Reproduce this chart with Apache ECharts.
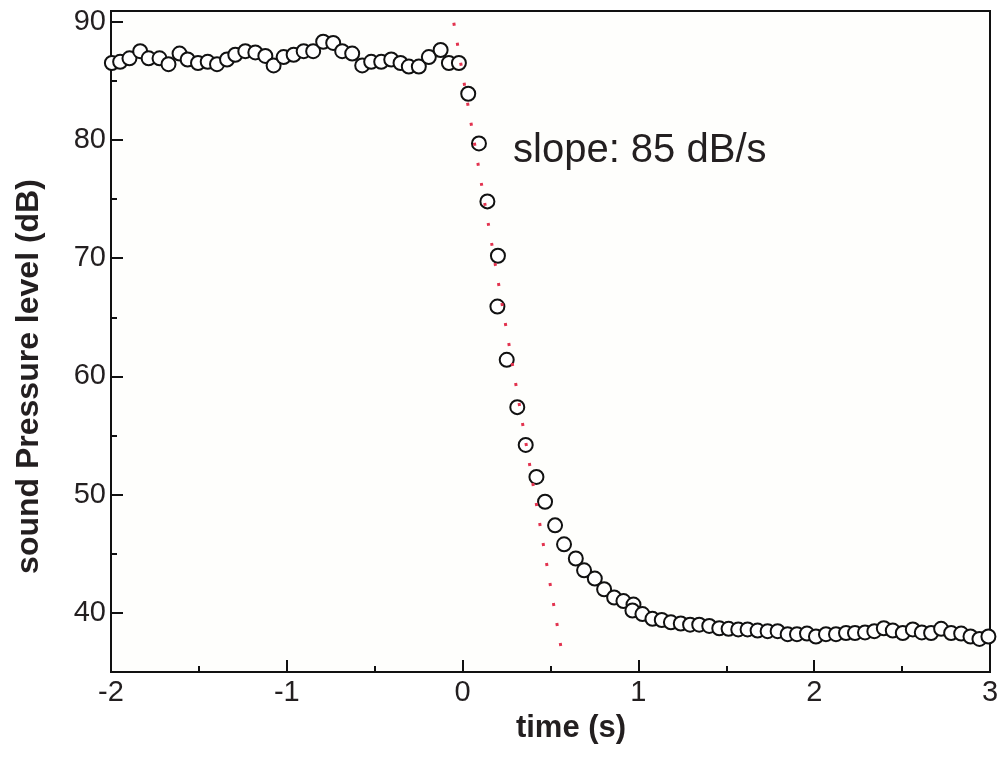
<!DOCTYPE html>
<html>
<head>
<meta charset="utf-8">
<script src="https://cdn.jsdelivr.net/npm/echarts@6/dist/echarts.min.js"></script>
<style>
html,body{margin:0;padding:0;background:#fff;}
#chart{width:1005px;height:757px;}
</style>
</head>
<body>
<div id="chart"></div>
<script>
// measured data: time (s) and sound pressure level (dB)
const timeS = [
  -1.995,-1.948,-1.895,-1.834,-1.786,-1.724,-1.673,-1.610,-1.564,-1.505,
  -1.450,-1.397,-1.340,-1.293,-1.236,-1.179,-1.122,-1.075,-1.018,-0.961,
  -0.904,-0.850,-0.793,-0.736,-0.685,-0.628,-0.571,-0.520,-0.463,-0.406,
  -0.353,-0.306,-0.249,-0.192,-0.125,-0.078,-0.021,
  0.032,0.093,0.141,0.201,0.198,0.251,0.311,0.359,0.420,0.469,
  0.526,0.577,0.644,0.691,0.752,0.805,0.862,0.915,0.972,0.966,
  1.023,1.080,1.133,1.185,1.241,1.294,1.346,1.403,1.460,1.513,
  1.568,1.621,1.678,1.735,1.792,1.849,1.902,1.959,2.010,2.067,
  2.124,2.181,2.232,2.289,2.342,2.396,2.447,2.504,2.561,2.612,
  2.665,2.722,2.779,2.836,2.889,2.940,2.991
];
const levelDb = [
  86.5,86.6,86.9,87.5,86.9,86.9,86.4,87.3,86.8,86.5,
  86.6,86.4,86.8,87.2,87.5,87.4,87.1,86.3,87.0,87.2,
  87.5,87.5,88.3,88.2,87.5,87.3,86.3,86.6,86.6,86.8,
  86.5,86.2,86.2,87.0,87.6,86.5,86.5,
  83.9,79.7,74.8,70.2,65.9,61.4,57.4,54.2,51.5,49.4,
  47.4,45.8,44.6,43.6,42.9,42.0,41.3,41.0,40.7,40.2,
  39.9,39.5,39.4,39.2,39.1,39.0,39.0,38.9,38.7,38.65,
  38.6,38.6,38.5,38.45,38.45,38.2,38.2,38.25,38.0,38.2,
  38.2,38.3,38.3,38.35,38.45,38.7,38.5,38.3,38.6,38.35,
  38.3,38.65,38.3,38.25,38.0,37.8,38.0
];
// linear fit (slope ~85 dB/s), two endpoints
const fitTime = [-0.050, 0.571];
const fitLevel = [89.9, 36.1];
// axis ticks
const yMajorTicks = [40, 50, 60, 70, 80, 90];
const yMinorTicks = [45, 55, 65, 75, 85];
const annotation = 'slope: 85 dB/s';

const FONT = '"Liberation Sans", Arial, sans-serif';
const chart = echarts.init(document.getElementById('chart'));
const yMin = 35, yMax = 90.9;

chart.setOption({
  backgroundColor: '#ffffff',
  animation: false,
  grid: {
    left: 111, right: 15, top: 11, bottom: 85,
    show: true, borderColor: '#111', borderWidth: 2, backgroundColor: '#fefefc'
  },
  xAxis: {
    type: 'value', min: -2, max: 3, interval: 1,
    name: 'time (s)', nameLocation: 'middle', nameGap: 41,
    nameTextStyle: { fontFamily: FONT, fontSize: 31, fontWeight: 'bold', color: '#231f20', padding: [0, 0, 0, 41] },
    axisLine: { show: true, onZero: false, lineStyle: { color: '#111', width: 2 } },
    axisTick: { show: true, inside: true, length: 12, lineStyle: { color: '#111', width: 2 } },
    minorTick: { show: true, splitNumber: 2, length: 6, lineStyle: { color: '#111', width: 2 } },
    axisLabel: { fontFamily: FONT, fontSize: 29, color: '#231f20', margin: 6 },
    splitLine: { show: false }, minorSplitLine: { show: false }
  },
  yAxis: [{
    type: 'value', min: yMin, max: yMax,
    name: 'sound Pressure level (dB)', nameLocation: 'middle', nameGap: 66,
    nameTextStyle: { fontFamily: FONT, fontSize: 32, fontWeight: 'bold', color: '#231f20', padding: [0, 70, 0, 0] },
    axisLine: { show: true, onZero: false, lineStyle: { color: '#111', width: 2 } },
    axisTick: { show: true, inside: true, length: 12, customValues: yMajorTicks, lineStyle: { color: '#111', width: 2 } },
    axisLabel: { fontFamily: FONT, fontSize: 29, color: '#231f20', margin: 5, customValues: yMajorTicks },
    splitLine: { show: false }
  }, {
    type: 'value', min: yMin, max: yMax, position: 'left',
    axisLine: { show: false, onZero: false },
    axisTick: { show: true, inside: true, length: 6, customValues: yMinorTicks, lineStyle: { color: '#111', width: 2 } },
    axisLabel: { show: false },
    splitLine: { show: false }
  }],
  graphic: [{
    type: 'text', left: 513, top: 131, z: 100,
    style: { text: annotation, font: '40px ' + FONT, fill: '#231f20' }
  }],
  series: [{
    type: 'scatter',
    data: timeS.map((t, i) => [t, levelDb[i]]),
    symbol: 'circle', symbolSize: 14, clip: false,
    itemStyle: { color: '#ffffff', borderColor: '#111', borderWidth: 2, opacity: 1 },
    z: 2
  }, {
    type: 'line',
    data: fitTime.map((t, i) => [t, fitLevel[i]]),
    showSymbol: false, symbol: 'none',
    lineStyle: { color: '#e2334f', width: 3, type: [3, 17.3] },
    z: 5
  }]
});
</script>
</body>
</html>
